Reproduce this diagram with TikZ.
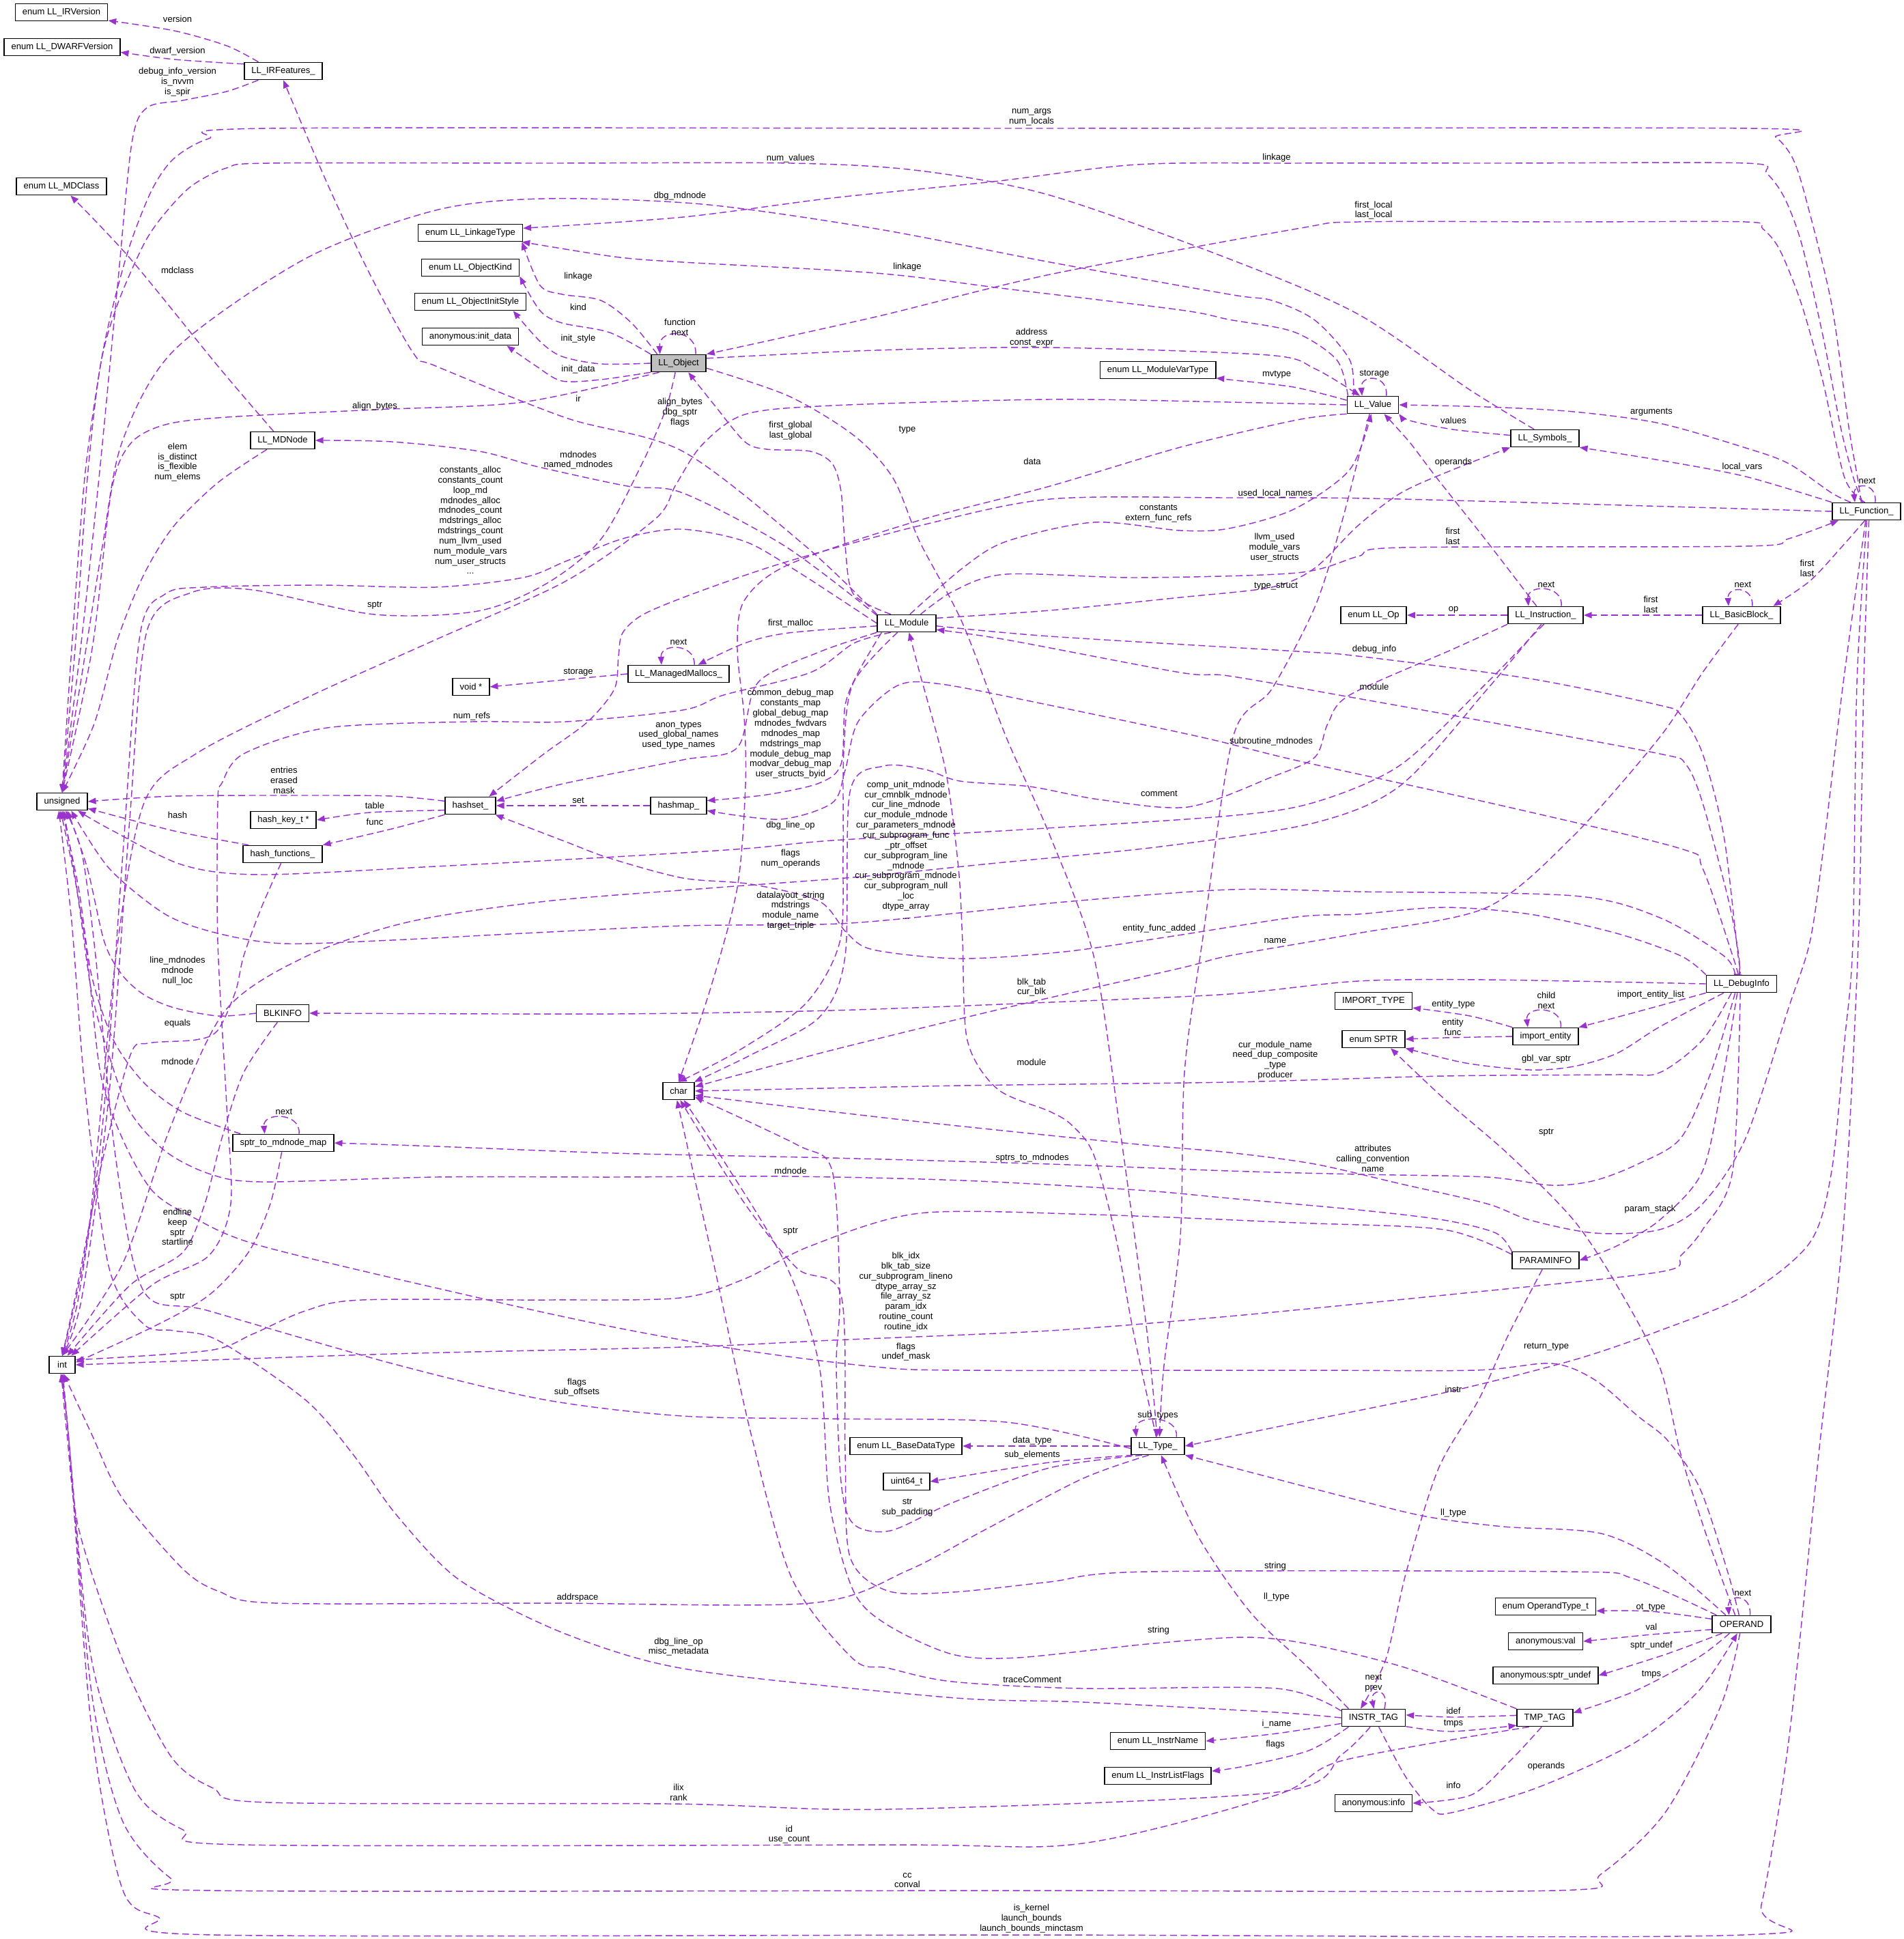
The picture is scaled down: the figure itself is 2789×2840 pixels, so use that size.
\documentclass[tikz,border=0pt]{standalone}
\usepackage{fontspec}
\setmainfont{Liberation Sans}
\usetikzlibrary{arrows.meta}
\definecolor{relcol}{RGB}{154,50,205}
\definecolor{objgray}{RGB}{191,191,191}
\pgfdeclarelayer{bg}
\pgfsetlayers{bg,main}
\tikzset{
  cls/.style={draw=black, line width=0.9pt, fill=white, inner xsep=5.8pt, inner ysep=0pt,
    minimum height=13.8pt, minimum width=21pt, font=\fontsize{7.2}{8.2}\selectfont},
  rel/.style={draw=relcol, line width=0.8pt, dash pattern=on 5.5pt off 3pt,
    -{Triangle[length=6.5pt,width=5pt]}},
  lbl/.style={font=\fontsize{7.2}{8.2}\selectfont, align=center, inner sep=0pt},
}
\begin{document}
\begin{tikzpicture}[x=0.5522pt, y=-0.5522pt]
  \useasboundingbox (0,0) rectangle (2789,2840);
  % classes
  \node[cls] (irver) at (90,18) {enum LL\_IRVersion};
  \node[cls] (dwarfver) at (91,69) {enum LL\_DWARFVersion};
  \node[cls] (irfeat) at (415,104) {LL\_IRFeatures\_};
  \node[cls] (mdclass) at (90,273) {enum LL\_MDClass};
  \node[cls] (linktype) at (689,341) {enum LL\_LinkageType};
  \node[cls] (objkind) at (689,392) {enum LL\_ObjectKind};
  \node[cls] (objinit) at (689,442) {enum LL\_ObjectInitStyle};
  \node[cls] (initdata) at (689,493) {anonymous:init\_data};
  \node[cls, fill=objgray] (llobj) at (994,532) {LL\_Object};
  \node[cls] (mdnode) at (414,645) {LL\_MDNode};
  \node[cls] (modvartype) at (1696,542) {enum LL\_ModuleVarType};
  \node[cls] (llvalue) at (2011,593) {LL\_Value};
  \node[cls] (symbols) at (2263,642) {LL\_Symbols\_};
  \node[cls] (function) at (2734,749) {LL\_Function\_};
  \node[cls] (llop) at (2012,901) {enum LL\_Op};
  \node[cls] (instr) at (2264,901) {LL\_Instruction\_};
  \node[cls] (bblock) at (2551,901) {LL\_BasicBlock\_};
  \node[cls] (module) at (1328,913) {LL\_Module};
  \node[cls] (mallocs) at (994,987) {LL\_ManagedMallocs\_};
  \node[cls] (hashmap) at (994,1180) {hashmap\_};
  \node[cls] (voidp) at (690,1006) {void *};
  \node[cls] (unsigned) at (91,1174) {unsigned};
  \node[cls] (hashset) at (689,1180) {hashset\_};
  \node[cls] (hashkey) at (415,1201) {hash\_key\_t *};
  \node[cls] (hashfn) at (414,1251) {hash\_functions\_};
  \node[cls] (blkinfo) at (414,1484) {BLKINFO};
  \node[cls] (char) at (994,1598) {char};
  \node[cls] (sptrmap) at (415,1674) {sptr\_to\_mdnode\_map};
  \node[cls] (int) at (91,1999) {int};
  \node[cls] (debuginfo) at (2551,1441) {LL\_DebugInfo};
  \node[cls] (imptype) at (2012,1466) {IMPORT\_TYPE};
  \node[cls] (sptr) at (2012,1522) {enum SPTR};
  \node[cls] (impent) at (2264,1518) {import\_entity};
  \node[cls] (paraminfo) at (2264,1846) {PARAMINFO};
  \node[cls] (lltype) at (1696,2118) {LL\_Type\_};
  \node[cls] (basetype) at (1327,2118) {enum LL\_BaseDataType};
  \node[cls] (uint64) at (1328,2170) {uint64\_t};
  \node[cls] (operand) at (2551,2379) {OPERAND};
  \node[cls] (optype) at (2264,2353) {enum OperandType\_t};
  \node[cls] (anonval) at (2264,2404) {anonymous:val};
  \node[cls] (anonsptr) at (2264,2454) {anonymous:sptr\_undef};
  \node[cls] (instrtag) at (2012,2516) {INSTR\_TAG};
  \node[cls] (tmptag) at (2263,2516) {TMP\_TAG};
  \node[cls] (instrname) at (1696,2550) {enum LL\_InstrName};
  \node[cls] (instrflags) at (1696,2601) {enum LL\_InstrListFlags};
  \node[cls] (anoninfo) at (2012,2641) {anonymous:info};

  % member labels
  \node[lbl] (lversion) at (260,28) {version};
  \node[lbl] (ldwarf) at (260,75) {dwarf\_version};
  \node[lbl] (ldebugver) at (260,120) {debug\_info\_version\\is\_nvvm\\is\_spir};
  \node[lbl] (lmdclass) at (260,396) {mdclass};
  \node[lbl] (llinkage) at (847,405) {linkage};
  \node[lbl] (lkind) at (847,450) {kind};
  \node[lbl] (linitstyle) at (847,496) {init\_style};
  \node[lbl] (linitdata) at (847,541) {init\_data};
  \node[lbl] (lir) at (847,584) {ir};
  \node[lbl] (lalign) at (549,595) {align\_bytes};
  \node[lbl] (lfunction) at (996,479) {function\\next};
  \node[lbl] (ldbgmd) at (996,287) {dbg\_mdnode};
  \node[lbl] (lmdnodes) at (847,674) {mdnodes\\named\_mdnodes};
  \node[lbl] (lelem) at (260,677) {elem\\is\_distinct\\is\_flexible\\num\_elems};
  \node[lbl] (lnumargs) at (1511,172) {num\_args\\num\_locals};
  \node[lbl] (lnumvalues) at (1158,232) {num\_values};
  \node[lbl] (llinkagef) at (1870,231) {linkage};
  \node[lbl] (llinkagev) at (1329,391) {linkage};
  \node[lbl] (laddress) at (1511,495) {address\\const\_expr};
  \node[lbl] (lmvtype) at (1870,549) {mvtype};
  \node[lbl] (lalignv) at (996,604) {align\_bytes\\dbg\_sptr\\flags};
  \node[lbl] (lfirstglobal) at (1158,631) {first\_global\\last\_global};
  \node[lbl] (ltype) at (1329,630) {type};
  \node[lbl] (ldata) at (1512,676) {data};
  \node[lbl] (lfirstlocal) at (2012,308) {first\_local\\last\_local};
  \node[lbl] (lstorage) at (2013,548) {storage};
  \node[lbl] (lvalues) at (2129,616) {values};
  \node[lbl] (larguments) at (2419,604) {arguments};
  \node[lbl] (loperands) at (2129,677) {operands};
  \node[lbl] (llocalvars) at (2552,684) {local\_vars};
  \node[lbl] (lnextf) at (2735,704) {next};
  \node[lbl] (lusedlocal) at (1868,723) {used\_local\_names};
  \node[lbl] (lconstants) at (1697,752) {constants\\extern\_func\_refs};
  \node[lbl] (lllvmused) at (1867,802) {llvm\_used\\module\_vars\\user\_structs};
  \node[lbl] (ltypestruct) at (1869,859) {type\_struct};
  \node[lbl] (lfirstlastm) at (2128,785) {first\\last};
  \node[lbl] (lfirstlastf) at (2647,832) {first\\last};
  \node[lbl] (lnexti) at (2265,856) {next};
  \node[lbl] (lnextb) at (2553,856) {next};
  \node[lbl] (lop) at (2129,893) {op};
  \node[lbl] (lfirstlastb) at (2418,885) {first\\last};
  \node[lbl] (ldebuginfo) at (2013,951) {debug\_info};
  \node[lbl] (lmodule) at (2013,1006) {module};
  \node[lbl] (lsubroutine) at (1862,1086) {subroutine\_mdnodes};
  \node[lbl] (lcomment) at (1698,1162) {comment};
  \node[lbl] (lentityfunc) at (1698,1360) {entity\_func\_added};
  \node[lbl] (lname) at (1868,1378) {name};
  \node[lbl] (lconstalloc) at (689,762) {constants\_alloc\\constants\_count\\loop\_md\\mdnodes\_alloc\\mdnodes\_count\\mdstrings\_alloc\\mdstrings\_count\\num\_llvm\_used\\num\_module\_vars\\num\_user\_structs\\...};
  \node[lbl] (lsptro) at (549,887) {sptr};
  \node[lbl] (lfirstmalloc) at (1158,913) {first\_malloc};
  \node[lbl] (lnextm) at (994,940) {next};
  \node[lbl] (lstoragem) at (847,985) {storage};
  \node[lbl] (lnumrefs) at (691,1049) {num\_refs};
  \node[lbl] (lanontypes) at (994,1077) {anon\_types\\used\_global\_names\\used\_type\_names};
  \node[lbl] (lcommon) at (1158,1075) {common\_debug\_map\\constants\_map\\global\_debug\_map\\mdnodes\_fwdvars\\mdnodes\_map\\mdstrings\_map\\module\_debug\_map\\modvar\_debug\_map\\user\_structs\_byid};
  \node[lbl] (lcompunit) at (1327,1245) {comp\_unit\_mdnode\\cur\_cmnblk\_mdnode\\cur\_line\_mdnode\\cur\_module\_mdnode\\cur\_parameters\_mdnode\\cur\_subprogram\_func\\\_ptr\_offset\\cur\_subprogram\_line\\\_mdnode\\cur\_subprogram\_mdnode\\cur\_subprogram\_null\\\_loc\\dtype\_array\\...};
  \node[lbl] (ldbglineop) at (1158,1209) {dbg\_line\_op};
  \node[lbl] (lflagsops) at (1158,1258) {flags\\num\_operands};
  \node[lbl] (ldatalayout) at (1158,1334) {datalayout\_string\\mdstrings\\module\_name\\target\_triple};
  \node[lbl] (lset) at (847,1172) {set};
  \node[lbl] (lentries) at (416,1143) {entries\\erased\\mask};
  \node[lbl] (ltable) at (549,1180) {table};
  \node[lbl] (lhash) at (260,1194) {hash};
  \node[lbl] (lfunc) at (549,1204) {func};
  \node[lbl] (llinemd) at (260,1422) {line\_mdnodes\\mdnode\\null\_loc};
  \node[lbl] (lequals) at (260,1499) {equals};
  \node[lbl] (lmdnodes2) at (260,1555) {mdnode};
  \node[lbl] (lnexts) at (416,1628) {next};
  \node[lbl] (lendline) at (260,1797) {endline\\keep\\sptr\\startline};
  \node[lbl] (lsptrs) at (260,1900) {sptr};
  \node[lbl] (lflagssub) at (845,2032) {flags\\sub\_offsets};
  \node[lbl] (lblktab) at (1511,1446) {blk\_tab\\cur\_blk};
  \node[lbl] (lmodulet) at (1511,1556) {module};
  \node[lbl] (lcurmod) at (1868,1553) {cur\_module\_name\\need\_dup\_composite\\\_type\\producer};
  \node[lbl] (lsptrsto) at (1512,1696) {sptrs\_to\_mdnodes};
  \node[lbl] (lmdnodep) at (1158,1715) {mdnode};
  \node[lbl] (lsptrp) at (1158,1804) {sptr};
  \node[lbl] (lblkidx) at (1327,1892) {blk\_idx\\blk\_tab\_size\\cur\_subprogram\_lineno\\dtype\_array\_sz\\file\_array\_sz\\param\_idx\\routine\_count\\routine\_idx};
  \node[lbl] (lflagsundef) at (1327,1980) {flags\\undef\_mask};
  \node[lbl] (lsubtypes) at (1696,2073) {sub\_types};
  \node[lbl] (ldatatype) at (1512,2110) {data\_type};
  \node[lbl] (lsubelem) at (1512,2131) {sub\_elements};
  \node[lbl] (lstr) at (1329,2208) {str\\sub\_padding};
  \node[lbl] (laddrspace) at (846,2340) {addrspace};
  \node[lbl] (ldbgmisc) at (994,2412) {dbg\_line\_op\\misc\_metadata};
  \node[lbl] (lilix) at (994,2625) {ilix\\rank};
  \node[lbl] (lid) at (1156,2687) {id\\use\_count};
  \node[lbl] (lcc) at (1329,2754) {cc\\conval};
  \node[lbl] (liskernel) at (1511,2810) {is\_kernel\\launch\_bounds\\launch\_bounds\_minctasm};
  \node[lbl] (limportlist) at (2418,1457) {import\_entity\_list};
  \node[lbl] (lentitytype) at (2129,1471) {entity\_type};
  \node[lbl] (lchild) at (2265,1465) {child\\next};
  \node[lbl] (lentity) at (2128,1504) {entity\\func};
  \node[lbl] (lgblvar) at (2265,1551) {gbl\_var\_sptr};
  \node[lbl] (lsptrop) at (2265,1659) {sptr};
  \node[lbl] (lattributes) at (2011,1697) {attributes\\calling\_convention\\name};
  \node[lbl] (lparamstack) at (2417,1771) {param\_stack};
  \node[lbl] (lreturntype) at (2265,1973) {return\_type};
  \node[lbl] (linstr) at (2129,2035) {instr};
  \node[lbl] (llltypeo) at (2129,2216) {ll\_type};
  \node[lbl] (lstringo) at (1868,2294) {string};
  \node[lbl] (llltypei) at (1870,2339) {ll\_type};
  \node[lbl] (lnexto) at (2553,2333) {next};
  \node[lbl] (lottype) at (2418,2355) {ot\_type};
  \node[lbl] (lval) at (2419,2383) {val};
  \node[lbl] (lstringt) at (1697,2388) {string};
  \node[lbl] (lsptrundef) at (2419,2410) {sptr\_undef};
  \node[lbl] (ltmpso) at (2419,2453) {tmps};
  \node[lbl] (lnextprev) at (2012,2465) {next\\prev};
  \node[lbl] (ltrace) at (1512,2460) {traceComment};
  \node[lbl] (lidef) at (2129,2506) {idef};
  \node[lbl] (liname) at (1870,2525) {i\_name};
  \node[lbl] (ltmpsi) at (2129,2525) {tmps};
  \node[lbl] (lflagsi) at (1868,2555) {flags};
  \node[lbl] (loperandsi) at (2265,2587) {operands};
  \node[lbl] (linfo) at (2129,2615) {info};

  \begin{pgfonlayer}{bg}
  % top left
  \draw[rel] plot[smooth] coordinates {(irfeat.160) (332,67) (255,45) (irver.-10)};
  \draw[rel] plot[smooth] coordinates {(irfeat.170) (255,87) (dwarfver.-5)};
  \draw[rel] plot[smooth] coordinates {(irfeat.200) (332,134) (268,147) (215,158) (193,210) (172,420) (145,700) (118,950) (unsigned.north)};
  \draw[rel] plot[smooth] coordinates {(mdnode.135) (319,536) (191,379) (mdclass.-45)};
  \draw[rel] plot[smooth] coordinates {(mdnode.210) (319,707) (255,770) (211,841) (172,937) (138,1060) (unsigned.north)};
  % LL_Object
  \draw[rel] plot[smooth] coordinates {(llobj.157) (925,473) (880,440) (823,431) (791,418) (linktype.-10)};
  \draw[rel] plot[smooth] coordinates {(llobj.north west) (893,487) (823,473) (791,455) (objkind.-10)};
  \draw[rel] plot[smooth] coordinates {(llobj.west) (880,533) (823,522) (791,500) (objinit.-12)};
  \draw[rel] plot[smooth] coordinates {(llobj.south west) (880,556) (823,558) (785,536) (initdata.-14)};
  \draw[rel] (llobj.28) .. controls +(2,-38) and +(-2,-38) .. (llobj.154);
  \draw[rel] plot[smooth] coordinates {(llobj.205) (766,589) (549,600) (332,611) (242,622) (191,650) (163,720) (135,950) (unsigned.north)};
  \draw[rel] plot[smooth] coordinates {(llobj.-110) (975,600) (940,680) (880,790) (800,855) (700,895) (549,900) (370,864) (280,868) (215,925) (190,1200) (160,1600) (120,1900) (int.north)};
  \draw[rel] plot[smooth] coordinates {(llobj.10) (1283,513) (1538,509) (1857,520) (1926,540) (llvalue.145)};
  \draw[rel] plot[smooth] coordinates {(llobj.-10) (1155,580) (1251,638) (1308,700) (1347,793) (1410,913) (1474,1080) (1538,1224) (1602,1400) (1640,1650) (1680,1950) (lltype.95)};
  % LL_Value
  \draw[rel] plot[smooth] coordinates {(llvalue.155) (1977,527) (1926,469) (1863,440) (1800,431) (1538,384) (1283,335) (1028,299) (797,291) (638,308) (447,379) (255,513) (179,647) (150,800) (118,1000) (unsigned.north)};
  \draw[rel] (llvalue.34) .. controls +(3,-32) and +(-3,-32) .. (llvalue.140);
  \draw[rel] plot[smooth] coordinates {(llvalue.170) (1895,567) (1800,556) (modvartype.-8)};
  \draw[rel] plot[smooth] coordinates {(llvalue.160) (1958,527) (1895,486) (1800,468) (1729,454) (1474,423) (1283,400) (1000,384) (900,376) (linktype.-10)};
  \draw[rel] plot[smooth] coordinates {(llvalue.west) (1800,589) (1538,585) (1219,594) (1091,607) (1028,652) (990,710) (960,760) (829,851) (638,937) (447,1023) (287,1104) (211,1176) (170,1400) (130,1800) (int.north)};
  \draw[rel] plot[smooth] coordinates {(llvalue.south west) (1900,615) (1729,655) (1538,712) (1347,762) (1155,827) (1090,880) (1080,950) (1090,1050) (1092,1150) (1080,1300) (1040,1450) (char.north)};
  \draw[rel] plot[smooth] coordinates {(llvalue.-110) (1995,650) (1964,770) (1926,889) (1863,1009) (1806,1080) (1761,1380) (1735,1571) (1729,1810) (1705,2000) (lltype.80)};
  % LL_Symbols_
  \draw[rel] plot[smooth] coordinates {(symbols.140) (2153,571) (1989,460) (1800,379) (1538,286) (1347,250) (1158,239) (800,239) (395,239) (332,246) (281,272) (242,312) (211,357) (172,446) (147,536) (128,700) (110,950) (unsigned.north)};
  \draw[rel] plot[smooth] coordinates {(symbols.175) (2128,629) (2065,616) (llvalue.south east)};
  % LL_Function_
  \draw[rel] plot[smooth] coordinates {(function.120) (2721,700) (2708,625) (2683,446) (2645,290) (2626,232) (2601,201) (2563,188) (1500,188) (395,188) (306,203) (255,232) (223,277) (191,357) (166,446) (147,536) (124,700) (105,950) (unsigned.north)};
  \draw[rel] plot[smooth] coordinates {(function.113) (2715,700) (2696,625) (2670,491) (2639,357) (2614,290) (2588,254) (2557,239) (2200,239) (1900,239) (1666,241) (1455,266) (1219,290) (1000,318) (linktype.5)};
  \draw[rel] plot[smooth] coordinates {(function.100) (2702,700) (2670,558) (2639,446) (2607,366) (2582,335) (2557,325) (2300,325) (1989,325) (1900,335) (1538,402) (1283,464) (llobj.north east)};
  \draw[rel] plot[smooth] coordinates {(function.150) (2683,722) (2620,679) (2557,656) (2431,620) (2305,603) (2178,596) (llvalue.east)};
  \draw[rel] plot[smooth] coordinates {(function.north west) (2557,698) (2431,674) (symbols.south east)};
  \draw[rel] (function.46) .. controls +(3,-30) and +(-3,-30) .. (function.142);
  \draw[rel] plot[smooth] coordinates {(function.west) (2052,731) (1800,729) (1538,731) (1347,770) (1155,822) (1028,865) (944,899) (912,927) (906,961) (900,1009) (861,1057) (797,1104) (hashset.26)};
  \draw[rel] plot[smooth] coordinates {(function.-100) (2696,803) (2651,851) (bblock.16)};
  \draw[rel] plot[smooth] coordinates {(function.-95) (2700,1000) (2670,1250) (2651,1380) (2620,1476) (2557,1667) (2494,1763) (2431,1801) (2336,1806) (2241,1787) (2178,1763) (2052,1734) (1926,1705) (1800,1688) (1666,1676) (1347,1643) (char.-15)};
  \draw[rel] plot[smooth] coordinates {(function.-88) (2720,1000) (2714,1380) (2702,1524) (2683,1715) (2651,1820) (2557,1897) (2431,1949) (2305,1992) (2115,2040) (1870,2090) (lltype.east)};
  \draw[rel] plot[smooth] coordinates {(function.-75) (2730,1000) (2722,1380) (2700,1800) (2664,2130) (2620,2550) (2580,2790) (2553,2834) (1500,2834) (313,2834) (232,2808) (179,2766) (134,2530) (100,2100) (int.-100)};
  % LL_BasicBlock_ and LL_Instruction_
  \draw[rel] (bblock.west) -- (instr.east);
  \draw[rel] (bblock.40) .. controls +(2,-30) and +(-2,-30) .. (bblock.145);
  \draw[rel] plot[smooth] coordinates {(bblock.-110) (2494,985) (2431,1080) (2305,1224) (2178,1329) (1989,1367) (1800,1400) (1729,1418) (1474,1476) (1219,1538) (char.15)};
  \draw[rel] (instr.west) -- (llop.east);
  \draw[rel] (instr.30) .. controls +(3,-32) and +(-3,-32) .. (instr.152);
  \draw[rel] plot[smooth] coordinates {(instr.135) (2178,793) (2103,698) (2065,648) (llvalue.-39)};
  \draw[rel] plot[smooth] coordinates {(instr.south west) (2130,950) (1977,1018) (1945,1060) (1926,1109) (1863,1138) (1740,1182) (1610,1171) (1508,1152) (1406,1144) (1355,1127) (1294,1122) (1245,1160) (1238,1400) (1200,1490) (1100,1545) (char.30)};
  \draw[rel] plot[smooth] coordinates {(instr.-100) (2241,935) (2178,1000) (2052,1120) (1926,1175) (1800,1195) (1500,1215) (1219,1231) (1091,1243) (900,1255) (638,1269) (383,1281) (268,1267) (160,1214) (unsigned.-30)};
  \draw[rel] plot[smooth] coordinates {(instr.-115) (2178,1010) (2052,1150) (1926,1205) (1700,1240) (1450,1265) (1250,1285) (1050,1300) (800,1320) (600,1350) (450,1400) (330,1480) (250,1650) (180,1850) (int.north)};
  % LL_Module
  \draw[rel] plot[smooth] coordinates {(module.north west) (1180,800) (1000,661) (829,612) (638,536) (606,518) (542,402) (479,268) (irfeat.south)};
  \draw[rel] plot[smooth] coordinates {(module.165) (1150,800) (1000,722) (919,712) (785,683) (702,661) (574,647) (mdnode.east)};
  \draw[rel] plot[smooth] coordinates {(module.150) (1250,870) (1238,800) (1232,720) (1219,679) (1187,661) (1123,658) (1091,647) (1047,594) (llobj.-43)};
  \draw[rel] plot[smooth] coordinates {(module.west) (1168,837) (1091,793) (996,775) (912,789) (829,822) (766,846) (638,860) (466,857) (300,860) (242,870) (205,930) (180,1250) (150,1650) (115,1900) (int.north)};
  \draw[rel] plot[smooth] coordinates {(module.185) (1155,927) (1091,942) (mallocs.25)};
  \draw[rel] plot[smooth] coordinates {(module.210) (1251,942) (1187,985) (1060,1018) (1000,1040) (829,1057) (691,1057) (479,1066) (357,1104) (325,1147) (319,1176) (319,1380) (332,1619) (338,1763) (306,1839) (223,1882) (int.45)};
  \draw[rel] plot[smooth] coordinates {(module.south west) (1200,955) (1110,1000) (1080,1095) (1000,1113) (829,1147) (hashset.10)};
  \draw[rel] plot[smooth] coordinates {(module.200) (1257,985) (1238,1033) (1232,1119) (1200,1147) (1123,1164) (hashmap.10)};
  \draw[rel] plot[smooth] coordinates {(module.-135) (1250,1000) (1236,1100) (1235,1250) (1230,1380) (1180,1470) (1080,1540) (char.north)};
  \draw[rel] plot[smooth] coordinates {(module.70) (1410,832) (1474,793) (1602,765) (1729,777) (1800,774) (1895,746) (1977,688) (llvalue.-100)};
  \draw[rel] plot[smooth] coordinates {(module.33) (1398,865) (1474,841) (1666,846) (1900,839) (1989,815) (2052,802) (2557,800) (2620,789) (function.198)};
  \draw[rel] plot[smooth] coordinates {(module.10) (1538,894) (1729,875) (1863,860) (1926,832) (1989,770) (2052,722) (2128,688) (symbols.south west)};
  \draw[rel] plot[smooth] coordinates {(module.-5) (1538,932) (1900,954) (1989,961) (2241,994) (2431,1033) (2462,1047) (2494,1104) (2525,1224) (2546,1400) (debuginfo.85)};
  % LL_ManagedMallocs_, hashset_, hashmap_, hash_functions_
  \draw[rel] (mallocs.west) -- (voidp.east);
  \draw[rel] (mallocs.30) .. controls +(2,-32) and +(-2,-32) .. (mallocs.152);
  \draw[rel] plot[smooth] coordinates {(hashset.170) (574,1166) (447,1165) (255,1166) (unsigned.east)};
  \draw[rel] plot[smooth] coordinates {(hashset.190) (542,1190) (hashkey.east)};
  \draw[rel] plot[smooth] coordinates {(hashset.south west) (574,1214) (hashfn.north east)};
  \draw[rel] (hashmap.west) -- (hashset.east);
  \draw[rel] plot[smooth] coordinates {(hashfn.165) (255,1217) (unsigned.-15)};
  \draw[rel] plot[smooth] coordinates {(hashfn.-100) (383,1329) (357,1400) (345,1452) (319,1509) (287,1523) (217,1528) (191,1545) (150,1700) (110,1900) (int.north)};
  % BLKINFO, sptr_to_mdnode_map
  \draw[rel] plot[smooth] coordinates {(blkinfo.west) (319,1488) (255,1476) (211,1457) (179,1428) (153,1380) (128,1272) (unsigned.-60)};
  \draw[rel] plot[smooth] coordinates {(blkinfo.-120) (357,1571) (325,1667) (300,1763) (268,1834) (191,1882) (int.60)};
  \draw[rel] plot[smooth] coordinates {(sptrmap.168) (268,1629) (211,1586) (166,1523) (134,1428) (115,1300) (unsigned.-90)};
  \draw[rel] (sptrmap.30) .. controls +(3,-32) and +(-3,-32) .. (sptrmap.154);
  \draw[rel] plot[smooth] coordinates {(sptrmap.-100) (396,1763) (364,1834) (306,1897) (223,1944) (int.10)};
  % LL_DebugInfo
  \draw[rel] plot[smooth] coordinates {(debuginfo.105) (2547,1400) (2532,1319) (2494,1176) (2469,1119) (2431,1104) (2178,1057) (1989,1023) (1800,990) (1729,985) (1474,937) (module.-12)};
  \draw[rel] plot[smooth] coordinates {(debuginfo.110) (2538,1400) (2494,1272) (2462,1243) (2200,1180) (1900,1114) (1761,1080) (1538,1033) (1379,1002) (1315,1004) (1257,1057) (1238,1128) (1219,1176) (1142,1200) (hashmap.-10)};
  \draw[rel] plot[smooth] coordinates {(debuginfo.125) (2525,1400) (2431,1344) (2305,1312) (1989,1306) (1800,1303) (1559,1321) (1406,1337) (1228,1353) (1000,1356) (766,1367) (574,1377) (415,1382) (319,1367) (242,1339) (160,1272) (unsigned.-45)};
  \draw[rel] plot[smooth] coordinates {(debuginfo.north west) (2462,1400) (2368,1367) (2241,1339) (2115,1329) (1989,1339) (1900,1343) (1712,1372) (1559,1394) (1406,1404) (1279,1391) (1240,1366) (1200,1320) (1100,1295) (1000,1286) (893,1257) (829,1233) (hashset.-20)};
  \draw[rel] plot[smooth] coordinates {(debuginfo.west) (2178,1435) (1989,1437) (1800,1456) (1538,1468) (1219,1480) (900,1485) (blkinfo.east)};
  \draw[rel] plot[smooth] coordinates {(debuginfo.222) (2494,1523) (2431,1571) (2368,1574) (2115,1576) (1800,1585) (1410,1590) (char.east)};
  \draw[rel] plot[smooth] coordinates {(debuginfo.207) (2431,1504) (2368,1543) (2305,1562) (2241,1567) (2147,1557) (sptr.south east)};
  \draw[rel] plot[smooth] coordinates {(debuginfo.south west) (2431,1473) (2368,1490) (impent.north east)};
  \draw[rel] plot[smooth] coordinates {(debuginfo.235) (2506,1571) (2462,1667) (2399,1705) (2336,1729) (2273,1736) (2178,1724) (1989,1720) (1800,1715) (1538,1705) (1219,1696) (900,1689) (638,1679) (sptrmap.east)};
  \draw[rel] plot[smooth] coordinates {(debuginfo.245) (2525,1571) (2494,1715) (2431,1787) (2368,1825) (paraminfo.east)};
  \draw[rel] plot[smooth] coordinates {(debuginfo.262) (2538,1715) (2494,1801) (2462,1839) (2431,1863) (2115,1897) (1800,1928) (1538,1949) (1219,1963) (1000,1973) (574,1983) (int.east)};
  % import_entity
  \draw[rel] plot[smooth] coordinates {(impent.north west) (2153,1488) (imptype.-10)};
  \draw[rel] plot[smooth] coordinates {(impent.west) (2115,1520) (sptr.east)};
  \draw[rel] (impent.31) .. controls +(4,-32) and +(-4,-32) .. (impent.153);
  % PARAMINFO
  \draw[rel] plot[smooth] coordinates {(paraminfo.north west) (2191,1806) (2115,1787) (1989,1772) (1800,1755) (1666,1743) (1410,1729) (1155,1723) (900,1724) (638,1724) (383,1731) (306,1719) (242,1686) (191,1629) (160,1547) (134,1452) (112,1300) (unsigned.-100)};
  \draw[rel] plot[smooth] coordinates {(paraminfo.170) (2115,1801) (1900,1791) (1602,1779) (1347,1777) (1187,1825) (1091,1873) (996,1901) (800,1904) (529,1904) (447,1920) (370,1954) (306,1978) (int.20)};
  \draw[rel] plot[smooth] coordinates {(paraminfo.-110) (2210,1954) (2166,2050) (2107,2151) (2060,2302) (2030,2430) (instrtag.145)};
  % LL_Type_
  \draw[rel] plot[smooth] coordinates {(lltype.100) (1660,1950) (1634,1810) (1602,1691) (1570,1648) (1538,1628) (1461,1595) (1417,1524) (1410,1380) (1404,1272) (1385,1128) (1347,985) (module.-75)};
  \draw[rel] (lltype.26) .. controls +(4,-33) and +(-4,-33) .. (lltype.157);
  \draw[rel] (lltype.west) -- (basetype.east);
  \draw[rel] plot[smooth] coordinates {(lltype.200) (1537,2142) (uint64.east)};
  \draw[rel] plot[smooth] coordinates {(lltype.210) (1537,2150) (1395,2201) (1304,2242) (1250,2232) (1232,2171) (1225,2000) (1230,1900) (1219,1715) (1168,1677) (char.-20)};
  \draw[rel] plot[smooth] coordinates {(lltype.225) (1585,2166) (1442,2241) (1330,2300) (1188,2348) (800,2348) (402,2348) (321,2331) (268,2298) (179,2194) (134,2100) (int.-80)};
  \draw[rel] plot[smooth] coordinates {(lltype.185) (1474,2083) (1219,2078) (1000,2074) (797,2050) (574,1997) (306,1920) (211,1892) (170,1700) (140,1400) (120,1250) (unsigned.-70)};
  % OPERAND
  \draw[rel] plot[smooth] coordinates {(operand.105) (2530,2300) (2490,2180) (2443,2110) (2399,2074) (2336,2021) (2273,1997) (2160,2007) (1900,2007) (1410,2007) (1283,2002) (1091,1978) (900,1944) (702,1901) (383,1825) (281,1782) (223,1744) (179,1667) (147,1571) (125,1380) (unsigned.-80)};
  \draw[rel] plot[smooth] coordinates {(operand.125) (2500,2250) (2462,2130) (2431,2002) (2368,1882) (2305,1787) (2210,1691) (2115,1609) (sptr.-28)};
  \draw[rel] plot[smooth] coordinates {(operand.150) (2440,2292) (2345,2246) (2202,2236) (2088,2221) (1965,2191) (lltype.south east)};
  \draw[rel] plot[smooth] coordinates {(operand.160) (2392,2312) (2297,2302) (1680,2302) (1537,2317) (1395,2332) (1300,2330) (1245,2280) (1238,2130) (1232,1897) (1168,1858) (1091,1763) (char.-80)};
  \draw[rel] plot[smooth] coordinates {(operand.170) (2418,2360) (optype.-5)};
  \draw[rel] plot[smooth] coordinates {(operand.190) (2419,2394) (anonval.east)};
  \draw[rel] plot[smooth] coordinates {(operand.205) (2440,2423) (anonsptr.east)};
  \draw[rel] plot[smooth] coordinates {(operand.217) (2487,2428) (2392,2478) (tmptag.10)};
  \draw[rel] (operand.47) .. controls +(3,-32) and +(-3,-32) .. (operand.144);
  \draw[rel] plot[smooth] coordinates {(operand.-100) (2520,2500) (2439,2655) (2345,2745) (2278,2769) (1500,2769) (313,2769) (250,2751) (179,2666) (134,2478) (100,2100) (int.-85)};
  % INSTR_TAG
  \draw[rel] plot[smooth] coordinates {(instrtag.160) (1917,2443) (1832,2362) (1756,2252) (lltype.-70)};
  \draw[rel] plot[smooth] coordinates {(instrtag.168) (1870,2473) (1585,2473) (1395,2463) (1300,2443) (1250,2430) (1160,2312) (1100,2100) (1047,1858) (char.-100)};
  \draw[rel] (instrtag.40) .. controls +(8,-32) and +(-6,-30) .. (instrtag.88);
  \draw[rel] plot[smooth] coordinates {(instrtag.190) (1870,2539) (instrname.east)};
  \draw[rel] plot[smooth] coordinates {(instrtag.200) (1917,2564) (1822,2587) (instrflags.5)};
  \draw[rel] plot[smooth] coordinates {(instrtag.-110) (1965,2570) (1870,2625) (1300,2650) (982,2642) (393,2640) (312,2619) (250,2572) (179,2430) (116,2242) (98,2100) (int.-95)};
  \draw[rel] plot[smooth] coordinates {(instrtag.west) (1870,2508) (1585,2493) (1400,2487) (1071,2454) (938,2430) (804,2383) (670,2312) (580,2218) (517,2130) (447,2050) (319,1963) (255,1949) (211,1940) (160,1858) (125,1600) (105,1350) (unsigned.-110)};
  \draw[rel] plot[smooth] coordinates {(instrtag.-15) (2126,2536) (tmptag.-165)};
  \draw[rel] plot[smooth] coordinates {(instrtag.-60) (2060,2604) (2098,2650) (2126,2655) (2250,2619) (2392,2554) (2487,2478) (operand.-115)};
  % TMP_TAG
  \draw[rel] plot[smooth] coordinates {(tmptag.175) (2129,2515) (instrtag.5)};
  \draw[rel] plot[smooth] coordinates {(tmptag.-110) (2212,2579) (2155,2629) (anoninfo.east)};
  \draw[rel] plot[smooth] coordinates {(tmptag.-150) (1965,2579) (1870,2629) (1585,2700) (1300,2702) (357,2702) (268,2680) (196,2619) (134,2430) (100,2100) (int.-90)};
  \draw[rel] plot[smooth] coordinates {(tmptag.north west) (2060,2443) (1917,2408) (1822,2398) (1680,2408) (1490,2428) (1395,2423) (1300,2380) (1250,2330) (1215,2200) (1200,2000) (1150,1850) (1060,1700) (char.-60)};
  \end{pgfonlayer}
\end{tikzpicture}
\end{document}
